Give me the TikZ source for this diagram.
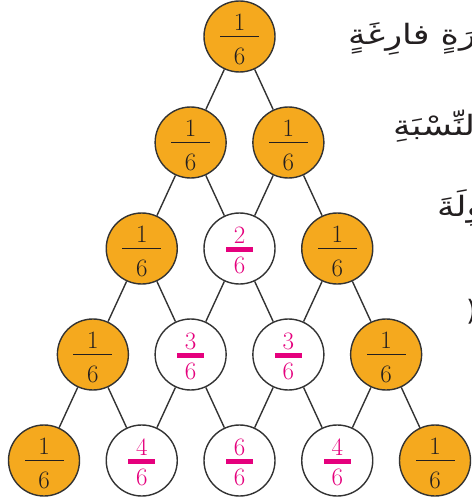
\documentclass[tikz,border=0pt]{standalone}
\usepackage{fontspec}
\usepackage{graphicx}
\TeXXeTstate=1
\newfontfamily\arabicfont[Script=Arabic]{DejaVu Sans}
\definecolor{orng}{HTML}{F5A91E}
\definecolor{pnk}{HTML}{E5007D}
\definecolor{edgec}{HTML}{333333}
\definecolor{inkc}{HTML}{231F20}
\newcommand\wideAr[1]{\scalebox{1.25}[1]{\beginR #1\endR}}
\tikzset{
  ball/.style={circle, draw=edgec, line width=1.4pt, minimum size=71pt, inner sep=0pt},
  fullball/.style={ball, fill=orng},
  emptyball/.style={ball, fill=white},
  digit/.style={inner sep=0pt, font=\fontsize{25}{25}\selectfont},
  link/.style={draw=edgec, line width=1.4pt},
  artext/.style={inner sep=0pt, anchor=base west, text=inkc, font=\arabicfont\fontsize{28}{32}\selectfont}
}
\begin{document}
\begin{tikzpicture}[x=1pt,y=-1pt]
\useasboundingbox (0,0) rectangle (471,497);
% Arabic text (cut off at the right edge, as in the reference)
\begin{scope}
\clip (0,0) rectangle (471,497);
\node[artext] (l1) at (348,45) {\wideAr{صَغيرَةٍ فارِغَةٍ}};
\node[artext] (l2) at (393,136) {\wideAr{بِالنِّسْبَةِ}};
\node[artext] (l3) at (437,216) {\wideAr{الطّاوِلَةَ}};
\node[artext] (l4) at (466,320) {(};
\end{scope}
% balls
\foreach \k/\row in {0/{1}, 1/{1,1}, 2/{1,2,1}, 3/{1,3,3,1}, 4/{1,4,6,4,1}} {
  \foreach \v [count=\j from 0] in \row {
    \pgfmathsetmacro\xx{239.5+(\j-\k/2)*97.75}
    \pgfmathsetmacro\yy{36.5+106*\k}
    \ifnum\v=1
      \node[fullball] (n-\k-\j) at (\xx,\yy) {};
      \node[digit, text=inkc] (a-\k-\j) at ([yshift=14pt]n-\k-\j.center) {1};
      \node[digit, text=inkc] (b-\k-\j) at ([yshift=-19.5pt]n-\k-\j.center) {6};
      \fill[inkc] ([xshift=-19.5pt,yshift=0.55pt]n-\k-\j.center) rectangle ([xshift=19.5pt,yshift=-0.55pt]n-\k-\j.center);
    \else
      \node[emptyball] (n-\k-\j) at (\xx,\yy) {};
      \node[digit, text=pnk] (a-\k-\j) at ([yshift=13pt]n-\k-\j.center) {\v};
      \node[digit, text=pnk] (b-\k-\j) at ([yshift=-17pt]n-\k-\j.center) {6};
      \fill[pnk] ([xshift=-13.5pt,yshift=1.3pt]n-\k-\j.center) rectangle ([xshift=13.5pt,yshift=-3.3pt]n-\k-\j.center);
    \fi
  }
}
% links
\foreach \k in {0,...,3} {
  \foreach \j in {0,...,\k} {
    \pgfmathtruncatemacro\kk{\k+1}
    \pgfmathtruncatemacro\jj{\j+1}
    \draw[link] (n-\k-\j) -- (n-\kk-\j);
    \draw[link] (n-\k-\j) -- (n-\kk-\jj);
  }
}
\end{tikzpicture}
\end{document}
